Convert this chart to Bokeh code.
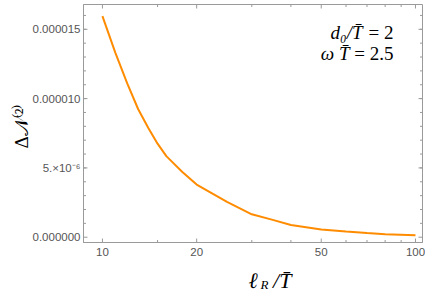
import math
from bokeh.plotting import figure
from bokeh.models import FixedTicker, Label, CustomJSTickFormatter
from bokeh.embed import file_html
from bokeh.resources import INLINE

# ---- data ----
l_R = [10, 11, 12, 13, 14, 15, 16, 18, 20, 25, 30, 35, 40, 50, 60, 70, 80, 100]
dN_e6 = [15.95, 13.3, 11.1, 9.25, 7.9, 6.75, 5.85, 4.7, 3.8, 2.55, 1.65, 1.25, 0.88, 0.55, 0.41, 0.3, 0.22, 0.15]
dN = [v * 1e-6 for v in dN_e6]

x_ticks = [10, 20, 50, 100]
x_minor = [15, 30, 40, 60, 70, 80, 90]
y_ticks = [0.0, 5e-6, 1e-5, 1.5e-5]
y_tick_labels = ["0.000000", "5.×10⁻⁶", "0.000010", "0.000015"]
y_minor = [i * 1e-6 for i in range(17)]

# ---- layout ----
W, H = 425, 294
FL, FR, FT, FB = 82, 422, 4, 242  # frame edges in page pixels
X0, X1 = 8.70, 105.3
Y0, Y1 = -0.382e-6, 16.79e-6

GRAY = "#9a9a9a"
TXT = "#555555"
SANS = "Liberation Sans"
SERIF = "Liberation Serif"

p = figure(width=W, height=H, x_axis_type="log", x_range=(X0, X1), y_range=(Y0, Y1),
           output_backend="svg", toolbar_location=None,
           min_border_left=FL, min_border_right=W - FR, min_border_top=FT,
           min_border_bottom=H - FB)
p.grid.visible = False
p.outline_line_color = GRAY
p.background_fill_color = "white"

p.line(l_R, dN, line_color="#ff8c00", line_width=2)

# inward frame ticks on all four sides (lengths in pixels converted to data)
dy_px = (Y1 - Y0) / (FB - FT)
lx_px = (math.log10(X1) - math.log10(X0)) / (FR - FL)

def xticks_marks(xs, n_px):
    d = n_px * dy_px
    p.segment(x0=xs, y0=[Y0] * len(xs), x1=xs, y1=[Y0 + d] * len(xs), line_color=GRAY, line_width=1)
    p.segment(x0=xs, y0=[Y1] * len(xs), x1=xs, y1=[Y1 - d] * len(xs), line_color=GRAY, line_width=1)

def yticks_marks(ys, n_px):
    f = 10 ** (n_px * lx_px)
    p.segment(x0=[X0] * len(ys), y0=ys, x1=[X0 * f] * len(ys), y1=ys, line_color=GRAY, line_width=1)
    p.segment(x0=[X1] * len(ys), y0=ys, x1=[X1 / f] * len(ys), y1=ys, line_color=GRAY, line_width=1)

xticks_marks(x_ticks, 4)
xticks_marks(x_minor, 2.5)
yticks_marks(y_ticks, 4)
yticks_marks([v for v in y_minor if v not in y_ticks], 2.5)

def style(ax):
    ax.axis_line_color = GRAY
    ax.major_tick_line_color = None
    ax.minor_tick_line_color = None
    ax.major_tick_out = 0
    ax.minor_tick_out = 0
    ax.major_label_text_font = SANS
    ax.major_label_text_font_size = "11.5px"
    ax.major_label_text_color = TXT

xb = p.xaxis[0]
xb.ticker = FixedTicker(ticks=x_ticks, minor_ticks=x_minor)
xb.formatter = CustomJSTickFormatter(code="return String(Math.round(tick));")
style(xb)
xb.major_label_standoff = 5

yl = p.yaxis[0]
yl.ticker = FixedTicker(ticks=y_ticks, minor_ticks=y_minor)
yl.major_label_overrides = {t: s for t, s in zip(y_ticks, y_tick_labels)}
style(yl)
yl.major_label_standoff = 3

def lab(text, ax, ay, size, style="italic", align="left", angle=0.0, font=SERIF, side=None):
    l = Label(x=ax, y=ay, x_units="canvas", y_units="canvas", text=text,
              text_font=font, text_font_size=size, text_font_style=style,
              text_color="black", text_align=align, text_baseline="alphabetic",
              angle=angle)
    if side is None:
        p.add_layout(l)
    else:
        p.add_layout(l, side)

# x axis label  l_R / T-bar  (subscript R drawn separately)
lab("ℓ\u2002\u2009/T̄", 248, 280, "22px", side="below")
lab("R", 260, 284, "13px", side="left")

# y axis label  Delta N^(2)
lab("Δ𝒩⁽²⁾", 21, 148, "19px", style="normal", angle=math.pi / 2, side="left")

# annotation
lab("= 2", 393, 32, "19px", style="normal", align="right")
lab("d₀/T̄", 362, 32, "19px", align="right")
lab("= 2.5", 393, 53, "19px", style="normal", align="right")
lab("ω T̄", 349, 53, "19px", align="right")

open("out.html", "w").write(file_html(p, INLINE))
